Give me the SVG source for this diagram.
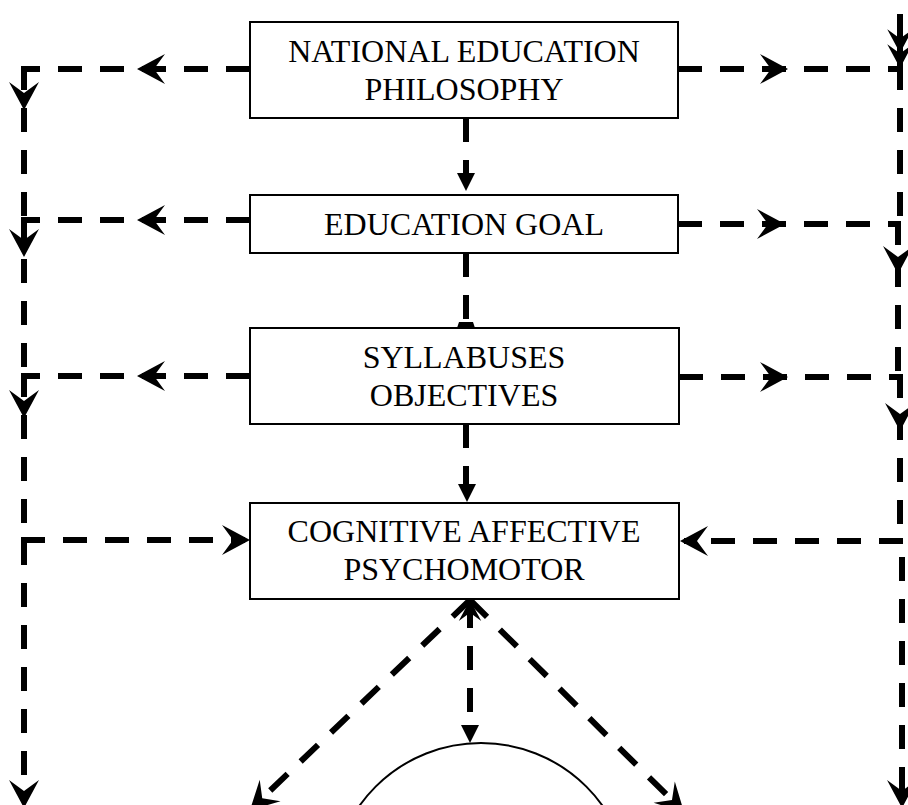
<svg xmlns="http://www.w3.org/2000/svg" xmlns:xlink="http://www.w3.org/1999/xlink" width="908" height="805" viewBox="0 0 908 805">
<style>
.box{fill:#fff;stroke:#000;stroke-width:2}
.lbl{font-family:"Liberation Serif","Times New Roman",serif;font-size:32px;fill:#000;text-anchor:middle}
.dash{fill:none;stroke:#000;stroke-width:6;stroke-dasharray:24 18;stroke-linecap:butt}
.solid{fill:none;stroke:#000;stroke-width:6}
.ah{fill:#000;stroke:none}
</style>
<defs>
<path id="stealth" d="M0,0 L-28,-15 L-17,0 L-28,15 Z"/>
<path id="tri" d="M0,0 L-18,-9 L-18,9 Z"/>
</defs>
<rect width="908" height="805" fill="#fff"/>
<g id="connectors">
  <!-- left column -->
  <path class="dash" d="M250,69 H24"/>
  <path class="dash" d="M250,220 H24"/>
  <path class="dash" d="M250,376 H24"/>
  <path class="dash" d="M24,66 V220"/>
  <path class="dash" d="M24,217 V376"/>
  <path class="dash" d="M24,373 V800"/>
  <path class="dash" d="M21,540 H245"/>
  <use href="#stealth" class="ah" transform="translate(137,69) rotate(180)"/>
  <use href="#stealth" class="ah" transform="translate(137,220) rotate(180)"/>
  <use href="#stealth" class="ah" transform="translate(137,376) rotate(180)"/>
  <use href="#stealth" class="ah" transform="translate(24,110) rotate(90)"/>
  <use href="#stealth" class="ah" transform="translate(24,257) rotate(90)"/>
  <use href="#stealth" class="ah" transform="translate(24,418) rotate(90)"/>
  <use href="#stealth" class="ah" transform="translate(24,808) rotate(90)"/>
  <use href="#stealth" class="ah" transform="translate(250,540)"/>
  <!-- right column -->
  <path class="solid" d="M900,14 V69"/>
  <use href="#stealth" class="ah" transform="translate(900,53) rotate(90) scale(0.85)"/>
  <use href="#stealth" class="ah" transform="translate(900,68) rotate(90) scale(0.85)"/>
  <path class="dash" d="M678,69 H903"/>
  <path class="dash" d="M678,224 H900"/>
  <path class="dash" d="M679,377 H903"/>
  <path class="dash" d="M900,66 V224"/>
  <path class="dash" d="M898,221 V377"/>
  <path class="dash" d="M900,374 V541"/>
  <path class="dash" d="M903,541 H684"/>
  <path class="dash" d="M902,557 V800"/>
  <use href="#stealth" class="ah" transform="translate(788,69)"/>
  <use href="#stealth" class="ah" transform="translate(785,224)"/>
  <use href="#stealth" class="ah" transform="translate(788,377)"/>
  <use href="#stealth" class="ah" transform="translate(898,274) rotate(90)"/>
  <use href="#stealth" class="ah" transform="translate(900,431) rotate(90)"/>
  <use href="#stealth" class="ah" transform="translate(680,541) rotate(180)"/>
  <use href="#stealth" class="ah" transform="translate(902,808) rotate(90)"/>
  <!-- center column -->
  <path class="dash" d="M466,118 V176"/>
  <use href="#tri" class="ah" transform="translate(466,191) rotate(90)"/>
  <path class="dash" d="M466,253 V322"/>
  <path class="ah" d="M459,322 L473,322 L475,328 L457,328 Z"/>
  <path class="dash" d="M466,424 V486"/>
  <use href="#tri" class="ah" transform="translate(467,502) rotate(90)"/>
  <path class="dash" d="M470,604 V727"/>
  <use href="#tri" class="ah" transform="translate(470,743) rotate(90)"/>
  <use href="#stealth" class="ah" transform="translate(470,600) rotate(-90) scale(0.75)"/>
  <path class="dash" d="M470,600 L255,805"/>
  <path class="dash" d="M470,600 L680,808"/>
  <use href="#stealth" class="ah" transform="translate(250,810) rotate(136)"/>
  <use href="#stealth" class="ah" transform="translate(684,812) rotate(45)"/>
</g>
<g id="node-philosophy">
  <rect class="box" x="250" y="22" width="428" height="96"/>
  <text class="lbl" x="464" y="62">NATIONAL EDUCATION</text>
  <text class="lbl" x="464" y="100">PHILOSOPHY</text>
</g>
<g id="node-goal">
  <rect class="box" x="250" y="195" width="428" height="58"/>
  <text class="lbl" x="464" y="235">EDUCATION GOAL</text>
</g>
<g id="node-syllabuses">
  <rect class="box" x="250" y="328" width="429" height="96"/>
  <text class="lbl" x="464" y="368">SYLLABUSES</text>
  <text class="lbl" x="464" y="406">OBJECTIVES</text>
</g>
<g id="node-domains">
  <rect class="box" x="250" y="503" width="429" height="96"/>
  <text class="lbl" x="464" y="542">COGNITIVE AFFECTIVE</text>
  <text class="lbl" x="464" y="580">PSYCHOMOTOR</text>
</g>
<g id="node-circle">
  <circle cx="481" cy="892" r="149" fill="none" stroke="#000" stroke-width="2"/>
</g>
</svg>
